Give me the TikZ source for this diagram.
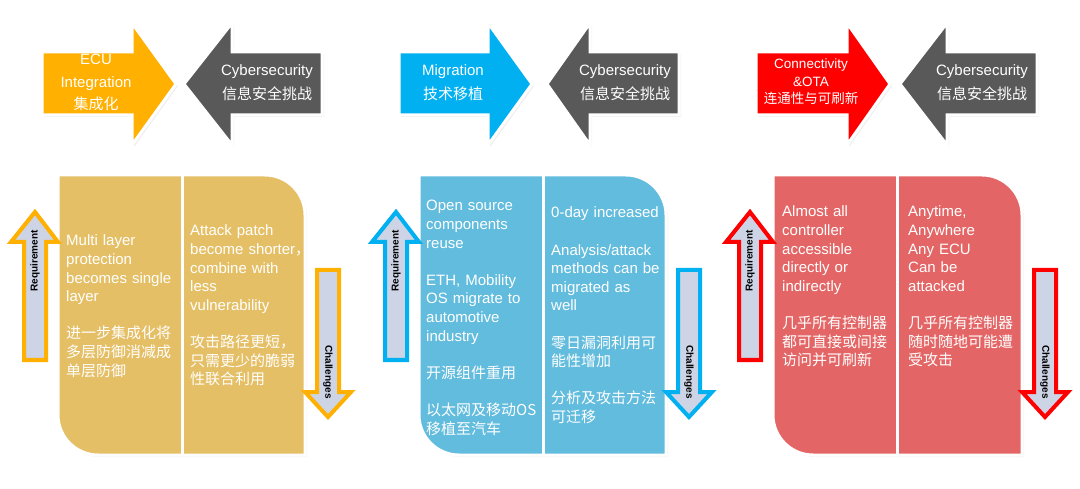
\documentclass[tikz,border=0pt]{standalone}
\usepackage{fontspec}
\setmainfont{Liberation Sans}
\newfontfamily\cjk{Noto Sans CJK SC}
\usetikzlibrary{shadows}

\definecolor{topA}{HTML}{FFB000}
\definecolor{topB}{HTML}{00B0F0}
\definecolor{topC}{HTML}{FF0000}
\definecolor{panelA}{HTML}{E5BF65}
\definecolor{panelB}{HTML}{62BCDD}
\definecolor{panelC}{HTML}{E46565}
\definecolor{cybgray}{HTML}{595959}
\definecolor{sidefill}{HTML}{CDD4E5}

\tikzset{
	toparrow/.style={draw=white,line width=3pt,line join=miter,
		drop shadow={opacity=0.12,shadow xshift=2pt,shadow yshift=-2pt}},
	panelbox/.style={draw=white,line width=3pt,
		drop shadow={opacity=0.12,shadow xshift=2pt,shadow yshift=-2pt}},
	sidearrow/.style={fill=sidefill,line width=4pt,line join=miter},
	sidetext/.style={font=\fontsize{10}{12}\selectfont\bfseries,inner sep=0pt},
	toptext/.style={text=white,align=center,inner sep=0pt,font=\fontsize{15}{24}\selectfont},
	bodytext/.style={text=white,text width=130pt,align=left,anchor=base west,
		inner sep=0pt,font=\fontsize{15}{18.6}\selectfont}
}

% L = flat end, B = head base, T = tip
\newcommand{\toparr}[4]{%
	\filldraw[toparrow,fill=#4] (#1,52) -- (#2,52) -- (#2,23) -- (#3,84)
		-- (#2,145) -- (#2,115) -- (#1,115) -- cycle;}

\begin{document}
\begin{tikzpicture}[x=1pt,y=-1pt]
	\fill[white] (0,0) rectangle (1080,489);
	\useasboundingbox (0,0) rectangle (1080,489);

	% top arrows
	\toparr{42}{132}{176}{topA}
	\toparr{322}{232}{184}{cybgray}
	\toparr{399}{488}{532}{topB}
	\toparr{679}{590}{547}{cybgray}
	\toparr{756}{847}{890}{topC}
	\toparr{1037}{947}{900}{cybgray}

	\node[toptext,font=\fontsize{15}{22.5}\selectfont] (ecu) at (96,82.5) {ECU\\Integration\\{\cjk 集成化}};
	\node[toptext] (cyb1) at (267,83) {Cybersecurity\\{\cjk 信息安全挑战}};
	\node[toptext] (mig) at (453,83) {Migration\\{\cjk 技术移植}};
	\node[toptext] (cyb2) at (625,83) {Cybersecurity\\{\cjk 信息安全挑战}};
	\node[toptext,font=\fontsize{13.5}{17.5}\selectfont] (conn) at (811,82) {Connectivity\\\&OTA\\{\cjk 连通性与可刷新}};
	\node[toptext] (cyb3) at (982,83) {Cybersecurity\\{\cjk 信息安全挑战}};

	% panels with requirement / challenges arrows
	\foreach \xl/\xd/\xr/\col/\edge/\n in {58/182/305/panelA/topA/1,419/543/666/panelB/topB/2,773/897/1022/panelC/topC/3}{
		\filldraw[panelbox,fill=\col] (\xl,175) -- ({\xr-40},175) .. controls ({\xr-18},175) and (\xr,193) .. (\xr,215)
			-- (\xr,455) -- ({\xl+40},455) .. controls ({\xl+18},455) and (\xl,437) .. (\xl,415) -- cycle;
		\draw[white,line width=3pt] (\xd,175) -- (\xd,455);
		\filldraw[sidearrow,draw=\edge] ({\xl-34},360) -- ({\xl-12},360) -- ({\xl-12},242) -- (\xl,242)
			-- ({\xl-23},212) -- ({\xl-47},242) -- ({\xl-34},242) -- cycle;
		\filldraw[sidearrow,draw=\edge] ({\xr+12},270) -- ({\xr+34},270) -- ({\xr+34},392) -- ({\xr+46},392)
			-- ({\xr+23},417) -- (\xr,392) -- ({\xr+12},392) -- cycle;
		\node[sidetext,rotate=90] (req\n) at ({\xl-23},261) {Requirement};
		\node[sidetext,rotate=-90] (chal\n) at ({\xr+23},372) {Challenges};
	}

	% panel texts
	\node[bodytext] (p1a) at (66,246) {Multi layer\\protection\\becomes single\\layer\\[18.6pt]\cjk 进一步集成化将\\多层防御消减成\\单层防御};
	\node[bodytext] (p1b) at (190,236) {Attack patch\\become shorter{\cjk ，}\\combine with\\less\\vulnerability\\[18.6pt]\cjk 攻击路径更短，\\只需更少的脆弱\\性联合利用};
	\node[bodytext] (p2a) at (426,211) {Open source\\components\\reuse\\[18.6pt]ETH, Mobility\\OS migrate to\\automotive\\industry\\[18.6pt]\cjk 开源组件重用\\[18.6pt]以太网及移动OS\\移植至汽车};
	\node[bodytext] (p2b) at (551,218) {0-day increased\\[18.6pt]Analysis/attack\\methods can be\\migrated as\\well\\[18.6pt]\cjk 零日漏洞利用可\\能性增加\\[18.6pt]分析及攻击方法\\可迁移};
	\node[bodytext] (p3a) at (782,217) {Almost all\\controller\\accessible\\directly or\\indirectly\\[18.6pt]\cjk 几乎所有控制器\\都可直接或间接\\访问并可刷新};
	\node[bodytext] (p3b) at (908,217) {Anytime,\\Anywhere\\Any ECU\\Can be\\attacked\\[18.6pt]\cjk 几乎所有控制器\\随时随地可能遭\\受攻击};
\end{tikzpicture}
\end{document}
